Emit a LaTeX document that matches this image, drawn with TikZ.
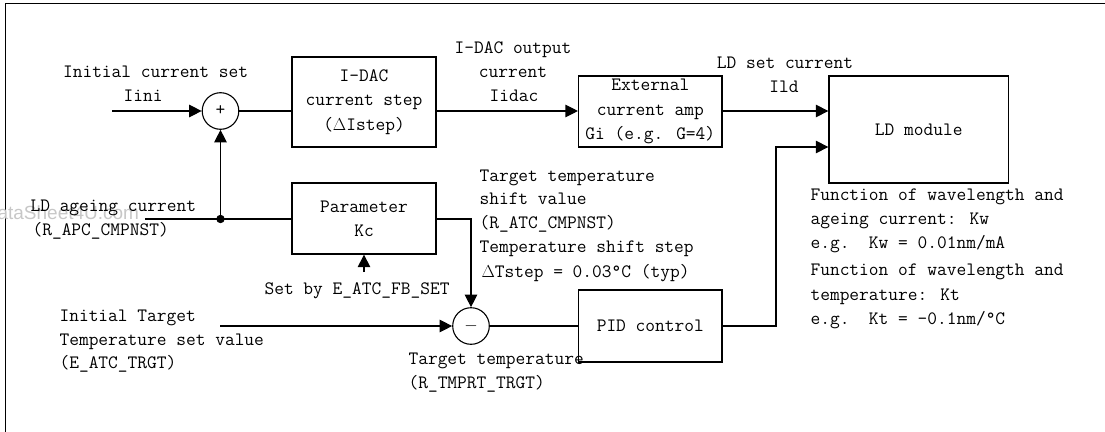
\documentclass[tikz,border=0pt]{standalone}
\usepackage{fontspec}
\usetikzlibrary{arrows.meta}
\newfontfamily\wmfont{Liberation Sans}
\newcommand\lbfont{\fontsize{18.9}{24.3}\selectfont\ttfamily}
\tikzset{
  lbl/.style={anchor=base west, inner sep=0pt, font=\lbfont},
  lblc/.style={anchor=base, inner sep=0pt, font=\lbfont},
  blk/.style={draw, line width=1.3pt, inner sep=0pt, align=center, font=\lbfont},
  sumc/.style={draw, circle, minimum size=36.6pt, inner sep=0pt, line width=1.1pt, font=\lbfont},
  arr/.style={-{Triangle[length=12.5pt,width=12.5pt]}},
}
\begin{document}
\begin{tikzpicture}[x=1pt,y=-1pt,line width=1.1pt]
\useasboundingbox (0,0) rectangle (1105,431);
% frame
\draw[line width=1.2pt] (5.5,445) -- (5.5,3.5) -- (1115,3.5);
% watermark
\node[anchor=base west, inner sep=0pt, text=black!22, font=\wmfont\fontsize{19}{19}\selectfont] (wm) at (-3,219) {ataSheet4U.com};
% blocks
\node[sumc] (s1) at (220.5,111) {+};
\node[blk, minimum width=144pt, minimum height=90pt] (idac) at (364,102) {I-DAC\\current step\\($\Delta$Istep)};
\node[blk, minimum width=143.4pt, minimum height=71pt] (ext) at (650.3,111.5) {External\\current amp\\Gi (e.g. G=4)};
\node[blk, minimum width=179.5pt, minimum height=107pt] (ld) at (918.75,129.5) {LD module};
\node[blk, minimum width=144pt, minimum height=71pt] (param) at (364,218.5) {Parameter\\Kc};
\node[sumc] (s2) at (471,326) {$-$};
\node[blk, minimum width=143.4pt, minimum height=72pt] (pid) at (650.3,326) {PID control};
% connectors
\coordinate (in1) at (112,111);
\coordinate (dot) at (220.5,219);
\coordinate (in2) at (145,219);
\coordinate (setby) at (364,272);
\coordinate (in3) at (220,326);
\coordinate (up) at (776,147);
\draw[arr] (in1) -- (s1);
\draw (s1) -- (idac.west |- s1);
\draw[arr] (idac.east |- s1) -- (ext.west |- s1);
\draw[arr] (ext.east |- s1) -- (ld.west |- s1);
\draw (in2) -- (param.west |- in2);
\fill (dot) circle (4.2pt);
\draw[arr] (dot) -- (s1.south);
\draw[arr] (setby) -- (param.south);
\draw[arr] (param.east |- in2) -| (s2.north);
\draw[arr] (in3) -- (s2.west);
\draw (s2.east) -- (pid.west);
\draw[arr] (pid.east) -| (up) -- (ld.west |- up);
% labels
\node[lbl] (tini1) at (62.5,77) {Initial current set};
\node[lbl] (tini2) at (123,101) {Iini};
\node[lblc] (tod1) at (513,53) {I-DAC output};
\node[lblc] (tod2) at (513,77) {current};
\node[lblc] (tod3) at (514,101) {Iidac};
\node[lblc] (tld1) at (785,68) {LD set current};
\node[lblc] (tld2) at (784,92) {Ild};
\node[lbl] (tf1) at (810,200) {Function of wavelength and};
\node[lbl] (tf2) at (810,224) {ageing current: Kw};
\node[lbl] (tf3) at (810,248) {e.g.\ \ Kw = 0.01nm/mA};
\node[lbl] (tf4) at (810,275) {Function of wavelength and};
\node[lbl] (tf5) at (810,300) {temperature: Kt};
\node[lbl] (tf6) at (810,324) {e.g.\ \ Kt = -0.1nm/\textdegree C};
\node[lbl] (ts1) at (479,181) {Target temperature};
\node[lbl] (ts2) at (479,204) {shift value};
\node[lbl] (ts3) at (479,228) {(R\_ATC\_CMPNST)};
\node[lbl] (ts4) at (479,252) {Temperature shift step};
\node[lbl] (ts5) at (481,277) {$\Delta$Tstep = 0.03\textdegree C (typ)};
\node[lbl] (tag1) at (30,211) {LD ageing current};
\node[lbl] (tag2) at (32,235) {(R\_APC\_CMPNST)};
\node[lbl] (tset) at (264,294) {Set by E\_ATC\_FB\_SET};
\node[lbl] (tit1) at (59,321) {Initial Target};
\node[lbl] (tit2) at (59,345) {Temperature set value};
\node[lbl] (tit3) at (59,368) {(E\_ATC\_TRGT)};
\node[lbl] (ttt1) at (408,364) {Target temperature};
\node[lbl] (ttt2) at (408,388) {(R\_TMPRT\_TRGT)};
\end{tikzpicture}
\end{document}
